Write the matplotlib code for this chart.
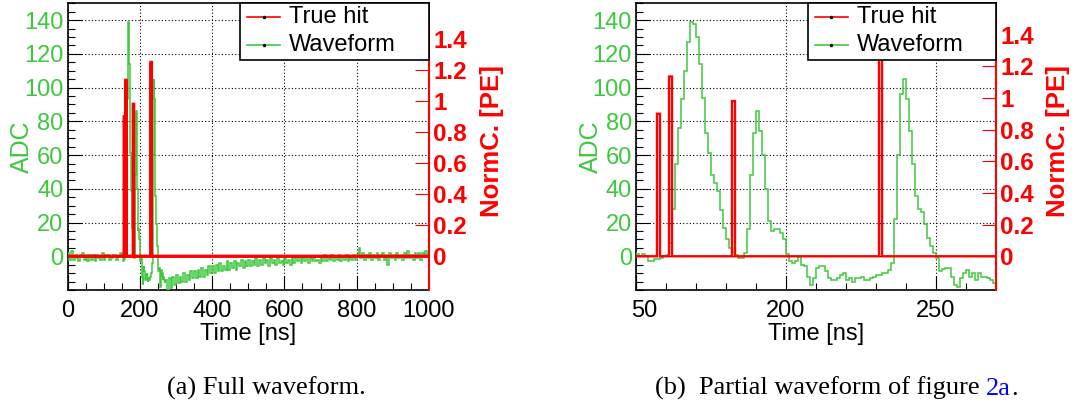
import numpy as np
import matplotlib
matplotlib.use("Agg")
import matplotlib.pyplot as plt
from matplotlib.patches import Rectangle
from matplotlib.ticker import MultipleLocator, FuncFormatter
from matplotlib.transforms import ScaledTranslation

plt.rcParams['font.family'] = ['Liberation Sans', 'DejaVu Sans']

GREEN = '#3ec83e'
RED = '#ff0000'

# true hits: bin start [ns] (1 ns bins) and normalised charge [PE]
hit_times = [157, 161, 182, 231]
hit_charges = [0.90, 1.135, 0.98, 1.25]

# waveform [ADC], 1 ns bins from 150 to 270 ns
fine_start, fine_bin = 150, 1
wave_fine = [
    1.5, 0, 1.5, 0, -3, -3, -1.5, -1.5, -1, 0,            # 150
    0.5, 8, 28, 55, 76, 93, 110, 127, 139, 138,           # 160
    130, 114, 94, 73, 61, 48, 43.5, 38.6, 27.3, 16.8,     # 170
    10, 5, 2.5, 1, -1, -1, 2, 16, 48, 73,                 # 180
    86, 74, 60, 40, 21, 15, 16, 16, 14, 10,               # 190
    1.6, -3, -4, -3, -0.5, -5, -6, -12, -17, -13,         # 200
    -7, -6, -6, -9, -13, -14, -14, -13, -11, -10,         # 210
    -14, -13, -15, -13, -13, -12, -14, -14, -13, -12,     # 220
    -11, -11, -10, -10, -8, -4, 22, 60, 96, 105,          # 230
    93, 74, 55, 36, 28, 26, 19, 11, 6, 2,                 # 240
    -1, -9, -7.5, -7, -7, -12, -17, -18, -13, -10,        # 250
    -8, -12, -10, -14, -10, -12, -12, -13, -14, -16,      # 260
]

# waveform [ADC] outside the zoom window, 5 ns bins
coarse_bin = 5
pre_start = 0
wave_pre = [
    2, -2, 3, -2, 1, -1, -3, 1, 2, -2,
    1, -3, 1, -2, 1, -3, 1, -1, -2, 2,
    -2, 1, 1, -2, -1, 1, 1, -2, 0, 2,
]
post_start = 270
wave_post = [
    -14, -20, -13, -19, -12, -17,
    -11, -16, -12, -15, -10, -15, -11, -14, -9, -13,
    -9, -13, -8, -12, -7, -12, -8, -11, -6, -10,
    -6, -10, -5, -9, -4, -9, -6, -8, -3, -8,
    -4, -7, -3, -8, -4, -6, -2, -7, -3, -6,
    -2, -6, -3, -5, -1, -6, -2, -5, -1, -4,
    -2, -6, -1, -4, -2, -5, -1, -4, -3, -5,
    -1, -4, -2, -5, 0, -4, -1, -3, 0, -4,
    -1, -3, 0, -4, -1, -3, 0, -3, -2, -4,
    0, -3, 1, -3, -1, -2, 1, -3, 0, -2,
    1, -3, 0, -2, 1, -3, -1, -2, 1, -2,
    1, 5, -1, 2, -2, 1, -1, 2, -2, 1,
    -1, 2, -2, 1, 2, -2, 1, -5, 2, -1,
    1, -2, 2, -1, 1, -2, 2, -1, 3, -1,
    1, -2, 2, -1, 2, -2, 2, 0, 3, 1,
]

# assemble the histogram edges
edges_pre = pre_start + coarse_bin * np.arange(len(wave_pre))
edges_fine = fine_start + fine_bin * np.arange(len(wave_fine))
edges_post = post_start + coarse_bin * np.arange(len(wave_post) + 1)
wave_edges = np.concatenate([edges_pre, edges_fine, edges_post])
wave_vals = np.array(wave_pre + wave_fine + wave_post, dtype=float)

hit_edges = np.arange(0, 1001)
hit_vals = np.zeros(1000)
for t, q in zip(hit_times, hit_charges):
    hit_vals[t] = q

fig = plt.figure(figsize=(10.78, 4.09), dpi=100)
W, H = 1078.0, 409.0
ax_top, ax_bot = 3.3, 290.0


def pe_fmt(v, pos):
    return f'{round(v, 2):g}'


def panel(x0, x1, xlim, xmaj, xlabels, xminor, pe_scale, lw_g, lw_r, shift0=0):
    ax = fig.add_axes([x0 / W, (H - ax_bot) / H, (x1 - x0) / W, (ax_bot - ax_top) / H])
    ax.stairs(wave_vals, wave_edges, baseline=None, color=GREEN, lw=lw_g, zorder=3)
    ax.set_xlim(*xlim)
    ax.set_ylim(-20, 150)
    ax.set_xticks(xmaj)
    ax.set_xticklabels(xlabels)
    ax.xaxis.set_minor_locator(MultipleLocator(xminor))
    ax.set_yticks(np.arange(0, 141, 20))
    ax.yaxis.set_minor_locator(MultipleLocator(5))
    ax.grid(True, which='major', color='black', linestyle=(0, (1, 2)), lw=0.8)
    ax.tick_params(axis='both', which='both', direction='in', width=0.8,
                   top=False, right=False, labelsize=17)
    ax.tick_params(axis='both', which='major', length=10)
    ax.tick_params(axis='both', which='minor', length=5)
    ax.tick_params(axis='y', labelcolor=GREEN, pad=3)
    ax.tick_params(axis='x', pad=7)
    if shift0:
        lab = ax.get_xticklabels()[0]
        lab.set_transform(lab.get_transform() + ScaledTranslation(shift0 / 100.0, 0, fig.dpi_scale_trans))
    for s in ax.spines.values():
        s.set_linewidth(1.2)
    ax.set_xlabel('Time [ns]', fontsize=17, labelpad=1)
    ax.set_ylabel('ADC', fontsize=18, color=GREEN)
    ax.yaxis.set_label_coords(-0.093, 0.5)

    ax2 = ax.twinx()
    ax2.stairs(hit_vals, hit_edges, baseline=None, color=RED, lw=lw_r, zorder=4)
    ax2.set_ylim(-20 * pe_scale, 150 * pe_scale)
    ax2.set_yticks(np.arange(0, 1.41, 0.2))
    ax2.yaxis.set_major_formatter(FuncFormatter(pe_fmt))
    ax2.tick_params(axis='y', direction='in', length=10, width=0.8, color=RED,
                    labelcolor=RED, labelsize=17.5, pad=3)
    for lab in ax2.get_yticklabels():
        lab.set_fontweight('bold')
    for k in ('left', 'top', 'bottom'):
        ax2.spines[k].set_visible(False)
    ax2.spines['right'].set_color(RED)
    ax2.spines['right'].set_linewidth(1.5)
    ax2.spines['right'].set_bounds(-20 * pe_scale, 1.5)
    ax2.set_ylabel('NormC. [PE]', fontsize=18.5, color=RED, fontweight='bold')
    ax2.yaxis.set_label_coords(1.14, 0.52)

    # legend box in the top right corner
    tr = ax2.transAxes
    ax2.add_patch(Rectangle((0.478, 0.801), 0.522, 0.199, transform=tr,
                            facecolor='white', edgecolor='black', lw=1.2,
                            zorder=10, clip_on=False))
    for y, col, lab in [(0.952, RED, 'True hit'), (0.855, GREEN, 'Waveform')]:
        ax2.plot([0.497, 0.588], [y, y], color=col, lw=1.2, transform=tr,
                 zorder=11, clip_on=False)
        ax2.plot([0.5425], [y], marker='o', ms=1.5, color='black', transform=tr,
                 zorder=12, clip_on=False)
        ax2.text(0.613, y, lab, fontsize=17, va='center', ha='left',
                 transform=tr, zorder=12)
    return ax, ax2


panel(67.5, 429, (0, 1000), np.arange(0, 1001, 200),
      [str(v) for v in range(0, 1001, 200)], 50, 1.6857 / 155.0, 1.1, 2.4)
panel(636, 996, (150, 270), [150, 200, 250], ['50', '200', '250'], 10,
      1.6857 / 158.3, 1.1, 1.7, shift0=8)

# captions
cap_kw = dict(family=['Liberation Serif', 'DejaVu Serif'], fontsize=19, va='baseline')
cap_y = (H - 395) / H
fig.text(266 / W, cap_y, '(a) Full waveform.', ha='center', **cap_kw)

r = fig.canvas.get_renderer()


def text_width(s):
    t = fig.text(0, 0, s, **cap_kw)
    w = t.get_window_extent(r).width
    t.remove()
    return w


cap_b, cap_ref, cap_end = '(b)  Partial waveform of figure ', '2a', '.'
x0 = 655.0
w_head_ref = text_width(cap_b + cap_ref)
w_all = text_width(cap_b + cap_ref + cap_end)
x_ref = x0 + w_head_ref - text_width(cap_ref)
x_end = x0 + w_all - text_width(cap_end)
fig.text(x0 / W, cap_y, cap_b, ha='left', **cap_kw)
fig.text(x_ref / W, cap_y, cap_ref, ha='left', color='#0000ff', **cap_kw)
fig.text(x_end / W, cap_y, cap_end, ha='left', **cap_kw)

fig.savefig('out.png', dpi=100)
